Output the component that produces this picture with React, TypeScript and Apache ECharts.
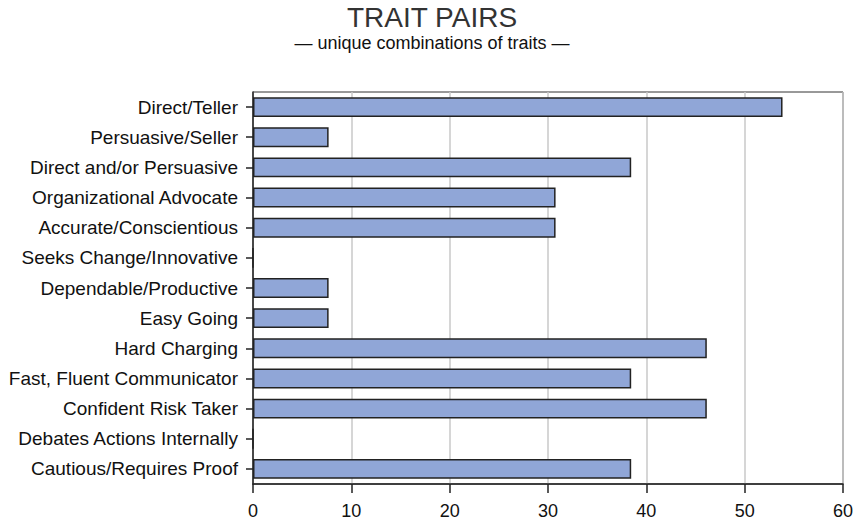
import React, { useEffect, useRef } from "react";
import * as echarts from "echarts";

const categories = [
  "Direct/Teller",
  "Persuasive/Seller",
  "Direct and/or Persuasive",
  "Organizational Advocate",
  "Accurate/Conscientious",
  "Seeks Change/Innovative",
  "Dependable/Productive",
  "Easy Going",
  "Hard Charging",
  "Fast, Fluent Communicator",
  "Confident Risk Taker",
  "Debates Actions Internally",
  "Cautious/Requires Proof",
];

const values = [53.85, 7.69, 38.46, 30.77, 30.77, 0, 7.69, 7.69, 46.15, 38.46, 46.15, 0, 38.46];

const titleText = "TRAIT PAIRS";
const subtitleText = "— unique combinations of traits —";

const FONT = "'Liberation Sans', Arial, sans-serif";

export default function App() {
  const ref = useRef<HTMLDivElement>(null);
  useEffect(() => {
    if (!ref.current) return;
    const chart = echarts.init(ref.current, null, { renderer: "svg" });
    chart.setOption({
      animation: false,
      backgroundColor: "#fff",
      title: [
        {
          text: titleText,
          left: 432,
          textAlign: "center",
          top: 3,
          padding: 0,
          textStyle: { fontFamily: FONT, fontSize: 28, fontWeight: "normal", color: "#333" },
        },
        {
          text: subtitleText,
          left: 432,
          textAlign: "center",
          top: 34,
          padding: 0,
          textStyle: { fontFamily: FONT, fontSize: 18, fontWeight: "normal", color: "#111" },
        },
      ],
      grid: {
        left: 253,
        right: 14,
        top: 92,
        bottom: 41,
        show: true,
        borderColor: "#333",
        borderWidth: 1,
        containLabel: false,
      },
      xAxis: {
        type: "value",
        min: 0,
        max: 60,
        interval: 10,
        axisLine: { show: true, lineStyle: { color: "#222", width: 1.5 } },
        axisTick: { show: true, length: 9, lineStyle: { color: "#222", width: 1.5 } },
        axisLabel: { margin: 18, fontFamily: FONT, fontSize: 18, color: "#111" },
        splitLine: { show: true, lineStyle: { color: "#c8c8c8", width: 1.5 } },
      },
      yAxis: {
        type: "category",
        data: categories,
        inverse: true,
        axisLine: { show: true, lineStyle: { color: "#222", width: 1.5 } },
        axisTick: { show: true, length: 7, alignWithLabel: true, lineStyle: { color: "#222", width: 1.5 } },
        axisLabel: { margin: 15, fontFamily: FONT, fontSize: 19, color: "#111" },
        splitLine: { show: false },
      },
      series: [
        {
          type: "bar",
          data: values,
          barCategoryGap: "34%",
          itemStyle: { color: "#90a6d7", borderColor: "#222", borderWidth: 1.5 },
        },
      ],
    });
    return () => chart.dispose();
  }, []);
  return (
    <div
      ref={ref}
      style={{ position: "fixed", left: 0, top: 0, width: 857, height: 525 }}
    />
  );
}
